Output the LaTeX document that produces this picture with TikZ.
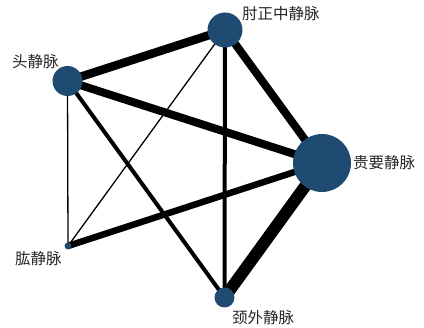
\documentclass[tikz,border=0pt]{standalone}
\usepackage{fontspec}
\newfontfamily\cjk{Noto Sans CJK SC}
\usetikzlibrary{backgrounds}
\definecolor{veinblue}{HTML}{1F4B73}
\tikzset{
    vein/.style = {circle, fill=veinblue, draw=none, inner sep=0pt},
    vlabel/.style = {inner sep=0pt, anchor=west, text=black!85, font=\cjk\fontsize{15.5}{18}\selectfont},
    link/.style = {line width=#1, black}
}

\begin{document}
\begin{tikzpicture}[x=1pt, y=1pt]
	\useasboundingbox (0, 0) rectangle (424, 328);

	\node[vein, minimum size=35pt](zhou) at (225, 298){};
	\node[vein, minimum size=30pt](tou) at (67.5, 247){};
	\node[vein, minimum size=58pt](guiyao) at (322, 165){};
	\node[vein, minimum size=7pt](gong) at (68, 82){};
	\node[vein, minimum size=20pt](jingwai) at (224.5, 30.5){};

	\node[vlabel](tzhou) at (242, 314){肘正中静脉};
	\node[vlabel](ttou) at (12, 266){头静脉};
	\node[vlabel](tguiyao) at (353, 165){贵要静脉};
	\node[vlabel](tgong) at (15, 69){肱静脉};
	\node[vlabel](tjingwai) at (232, 10){颈外静脉};

	\begin{scope}[on background layer]
	\draw[link=8.5pt] (tou.center) -- (zhou.center);
	\draw[link=8pt] (zhou.center) -- (guiyao.center);
	\draw[link=8pt] (tou.center) -- (guiyao.center);
	\draw[link=12pt] (guiyao.center) -- (jingwai.center);
	\draw[link=6.5pt] (guiyao.center) -- (gong.center);
	\draw[link=4pt] (zhou.center) -- (jingwai.center);
	\draw[link=4pt] (tou.center) -- (jingwai.center);
	\draw[link=1.3pt] (tou.center) -- (gong.center);
	\draw[link=1.3pt] (zhou.center) -- (gong.center);
	\end{scope}
\end{tikzpicture}
\end{document}
